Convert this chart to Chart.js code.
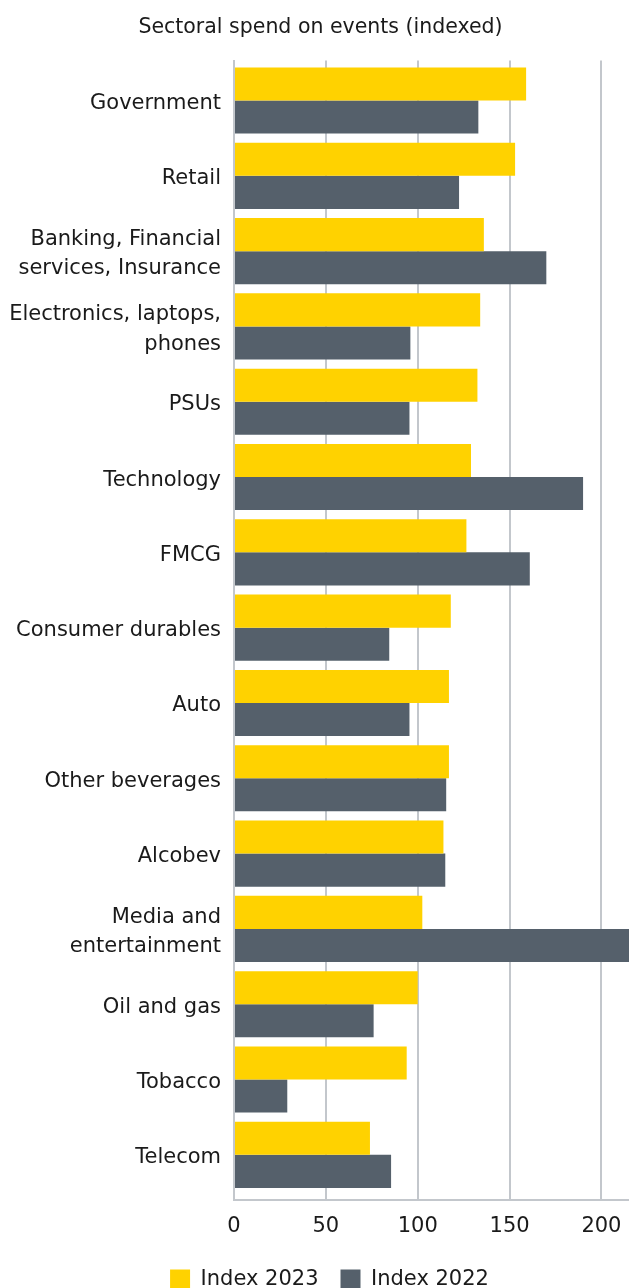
<!DOCTYPE html>
<html>
<head>
<meta charset="utf-8">
<script src="https://cdn.jsdelivr.net/npm/chart.js@4"></script>
<style>
  html, body { margin: 0; padding: 0; background: #fff; overflow: hidden; }
  #wrap { width: 629px; height: 1300px; position: relative; }
</style>
</head>
<body>
<div id="wrap"><canvas id="myChart"></canvas></div>
<script>
// data
const sectors = [
  "Government", "Retail", ["Banking, Financial", "services, Insurance"],
  ["Electronics, laptops,", "phones"], "PSUs", "Technology", "FMCG",
  "Consumer durables", "Auto", "Other beverages", "Alcobev",
  ["Media and", "entertainment"], "Oil and gas", "Tobacco", "Telecom"
];
const index2023 = [159, 153, 136, 134, 132.5, 129, 126.5, 118, 117, 117, 114, 102.5, 100, 94, 74];
const index2022 = [133, 122.5, 170, 96, 95.5, 190, 161, 84.5, 95.5, 115.5, 115, 235, 76, 29, 85.5];
const xTicks = [0, 50, 100, 150, 200];

const gridGrey = "#c3c7cc";
const textCol = "#1a1a1a";
const font = "'DejaVu Sans', sans-serif";

const ctx = document.getElementById('myChart');

// nudge title and legend a little right, like the original
const nudge = {
  id: 'nudge',
  afterLayout(chart) {
    const t = chart.titleBlock, l = chart.legend;
    if (t) { t.left += 6; t.right += 6; }
    if (l) { l.left += 15; l.right += 15; }
  }
};

// sectors sit on a numeric axis so the band can be inset a bit from the frame
const toPoints = (arr) => arr.map((v, i) => ({ x: v, y: i }));

new Chart(ctx, {
  type: 'bar',
  data: {
    datasets: [{
      label: 'Index 2023',
      data: toPoints(index2023),
      backgroundColor: '#FFD200',
      barPercentage: 1.0,
      categoryPercentage: 0.878
    }, {
      label: 'Index 2022',
      data: toPoints(index2022),
      backgroundColor: '#55606B',
      barPercentage: 1.0,
      categoryPercentage: 0.878
    }]
  },
  plugins: [nudge],
  options: {
    indexAxis: 'y',
    responsive: true,
    maintainAspectRatio: false,
    animation: false,
    layout: { padding: 0 },
    scales: {
      x: {
        type: 'linear',
        min: 0,
        max: 215,
        afterBuildTicks: (scale) => {
          scale.ticks = xTicks.map(v => ({ value: v }));
        },
        afterFit: (scale) => {
          scale.height = 47;
          scale.paddingRight = 0;
          scale.paddingLeft = 0;
        },
        grid: { color: gridGrey, lineWidth: 2, drawTicks: false },
        border: { color: gridGrey, width: 2 },
        ticks: { color: textCol, font: { family: font, size: 21 }, padding: 14 }
      },
      y: {
        type: 'linear',
        offset: false,
        reverse: true,
        min: -0.53,
        max: 14.6,
        afterBuildTicks: (scale) => {
          scale.ticks = sectors.map((s, i) => ({ value: i }));
        },
        afterFit: (scale) => {
          scale.width = 234;
          scale.paddingTop = 0;
          scale.paddingBottom = 0;
        },
        grid: { display: false, drawTicks: false },
        border: { color: gridGrey, width: 2 },
        ticks: {
          color: textCol,
          font: { family: font, size: 21, lineHeight: 1.4 },
          padding: 13,
          labelOffset: 3,
          callback: (v) => sectors[v]
        }
      }
    },
    plugins: {
      title: {
        display: true,
        text: 'Sectoral spend on events (indexed)',
        color: textCol,
        font: { family: font, size: 20.5, weight: 'normal' },
        padding: { top: 15, bottom: 21 }
      },
      legend: {
        position: 'bottom',
        labels: {
          color: textCol,
          font: { family: font, size: 21 },
          boxWidth: 20,
          boxHeight: 20,
          padding: 22
        }
      },
      tooltip: { enabled: false }
    }
  }
});
</script>
</body>
</html>
